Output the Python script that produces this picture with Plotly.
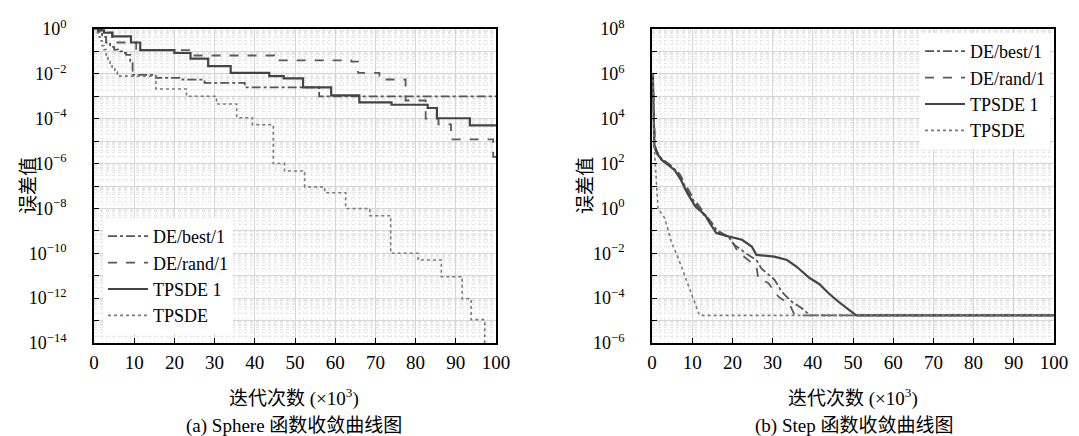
import plotly.graph_objects as go

# ---------------- data ----------------
series_names = ["DE/best/1", "DE/rand/1", "TPSDE 1", "TPSDE"]

# (a) Sphere
sph_best_x = [0, 1, 2, 3, 4, 5, 6, 7, 8, 9, 9.6, 15.4, 22, 27.5, 37.5, 56, 100]
sph_best_y = [1.0, 0.75, 0.45, 0.25, 0.16, 0.12, 0.1, 0.085, 0.07, 0.03, 0.009,
              0.0066, 0.0055, 0.004, 0.0025, 0.001, 0.001]

sph_rand_x = [0, 2, 4.5, 10.5, 24, 44.8, 64, 65.7, 71, 77.5, 82.5, 85.7, 88.8, 99.3, 100]
sph_rand_y = [1.0, 0.7, 0.25, 0.115, 0.066, 0.04, 0.035, 0.011, 0.0056, 6.5e-4,
              1e-4, 5.6e-5, 1.2e-5, 2e-6, 2e-6]

sph_tp1_x = [0, 1, 2.5, 4.6, 9.2, 11.5, 20, 24, 28.4, 34, 43.6, 47.2, 52, 59, 66,
             74, 83, 85.3, 93.5, 100]
sph_tp1_y = [1.0, 0.87, 0.68, 0.47, 0.25, 0.115, 0.085, 0.048, 0.022, 0.011,
             0.0079, 0.0063, 0.0025, 0.0011, 5.4e-4, 4.2e-4, 3e-4, 1.05e-4, 5e-5, 5e-5]

sph_tp_x = [0, 0.5, 1, 1.5, 2, 2.5, 3, 3.5, 4, 4.5, 5.2, 5.8, 15.4, 23, 30.5, 35.5,
            39.4, 44.6, 47.4, 52.4, 57.4, 62.6, 68.6, 73.8, 80.6, 86.4, 91.6, 93.8, 97.2]
sph_tp_y = [1.0, 0.7, 0.45, 0.3, 0.18, 0.12, 0.07, 0.045, 0.03, 0.02, 0.012, 0.0079,
            0.0021, 0.001, 4.5e-4, 1.1e-4, 5.4e-5, 1e-6, 4.7e-7, 9e-8, 5e-8, 1e-8,
            4.7e-9, 1e-10, 5e-11, 9e-12, 9.5e-13, 1.1e-13, 1e-16]

# (b) Step
stp_best_x = [0.2, 0.4, 0.7, 1.3, 2.5, 4, 5.6, 7, 8.5, 10.5, 12.5, 14.5, 16.5, 19.3,
              20.6, 23.9, 26, 27.2, 30.5, 32.2, 34.7, 37.2, 39.3, 100]
stp_best_y = [1e6, 1e4, 630, 316, 158, 100, 56, 25, 7.9, 2.0, 0.63, 0.25, 0.089,
              0.047, 0.023, 0.0085, 0.005, 0.0021, 6.6e-4, 2e-4, 7e-5, 3.6e-5,
              1.7e-5, 1.7e-5]

stp_rand_x = [0.2, 0.4, 0.7, 1.3, 2.5, 4, 5.6, 7, 8.5, 10.5, 12.5, 14.5, 16.5, 19.3,
              21.4, 23.9, 26, 26.4, 28.9, 31.4, 34.3, 35.5, 100]
stp_rand_y = [1e6, 1e4, 630, 316, 158, 100, 63, 32, 10, 2.5, 0.8, 0.28, 0.1, 0.05,
              0.0117, 0.005, 0.0025, 7.9e-4, 4.7e-4, 1.2e-4, 5e-5, 1.7e-5, 1.7e-5]

stp_tp1_x = [0.2, 0.4, 0.6, 1.2, 2.4, 4, 5.6, 7.2, 8.8, 10.8, 13.2, 14.4, 16, 19.2,
             22.4, 24.8, 26, 30.4, 33.6, 36, 39.2, 41.6, 44, 46.4, 48.5, 50.8, 100]
stp_tp1_y = [1e6, 1e4, 575, 290, 145, 87, 52, 18.6, 4.8, 1.2, 0.51, 0.22, 0.079,
             0.055, 0.04, 0.02, 0.0085, 0.0071, 0.005, 0.0025, 7.9e-4, 4.3e-4,
             1.6e-4, 6.9e-5, 3.5e-5, 1.7e-5, 1.7e-5]

stp_tp_x = [0.2, 0.5, 1.0, 1.5, 3.2, 4.8, 6.5, 8.1, 9.8, 11.8, 100]
stp_tp_y = [1e6, 1000, 30, 1.0, 0.36, 0.032, 0.0063, 0.001, 1.4e-4, 1.7e-5, 1.7e-5]

x_ticks = [0, 10, 20, 30, 40, 50, 60, 70, 80, 90, 100]
left_exps = list(range(-14, 1))
right_exps = list(range(-6, 9))

# ---------------- styling ----------------
FONT = "Liberation Serif, Times New Roman, Noto Sans CJK SC, serif"
line_styles = [
    dict(color="#555555", width=1.8, dash="dashdot"),
    dict(color="#5a5a5a", width=1.8, dash="dash"),
    dict(color="#444444", width=2.2, dash="solid"),
    dict(color="#7a7a7a", width=1.6, dash="dot"),
]

fig = go.Figure()

left_data = [(sph_best_x, sph_best_y), (sph_rand_x, sph_rand_y),
             (sph_tp1_x, sph_tp1_y), (sph_tp_x, sph_tp_y)]
right_data = [(stp_best_x, stp_best_y), (stp_rand_x, stp_rand_y),
              (stp_tp1_x, stp_tp1_y), (stp_tp_x, stp_tp_y)]

for name, (xs, ys), st in zip(series_names, left_data, line_styles):
    fig.add_trace(go.Scatter(x=xs, y=ys, mode="lines", name=name, line=dict(shape="hv", **st),
                             xaxis="x", yaxis="y", legend="legend"))
for name, (xs, ys), st in zip(series_names, right_data, line_styles):
    fig.add_trace(go.Scatter(x=xs, y=ys, mode="lines", name=name, line=dict(shape="linear", **st),
                             xaxis="x2", yaxis="y2", legend="legend2"))


def sup_label(e):
    s = str(e) if e >= 0 else "\u2212" + str(-e)
    return "10<sup>" + s + "</sup>"


def yaxis_cfg(exps, anchor):
    vals = [10.0 ** e for e in exps]
    text = [sup_label(e) if e % 2 == 0 else "" for e in exps]
    minor_vals = [m * 10.0 ** e for e in range(exps[0] - 1, exps[-1]) for m in range(2, 10)]
    return dict(
        type="log", range=[exps[0], exps[-1]], anchor=anchor,
        domain=[1 - 335 / 436, 1 - 21 / 436],
        tickmode="array", tickvals=vals, ticktext=text,
        ticks="inside", ticklen=5, tickcolor="black", tickwidth=1.2,
        showline=True, linecolor="black", linewidth=1.8, mirror=True,
        showgrid=True, gridcolor="#d6d6d6", gridwidth=1,
        minor=dict(tickmode="array", tickvals=minor_vals, showgrid=True,
                   gridcolor="#e6e6e6", griddash="dot", gridwidth=1, ticks=""),
        tickfont=dict(family=FONT, size=18, color="black"),
        ticklabelstandoff=22, zeroline=False, automargin=False,
    )


def xaxis_cfg(dom, anchor):
    return dict(
        range=[0, 100], domain=dom, anchor=anchor,
        tickmode="array", tickvals=x_ticks, ticktext=[str(v) for v in x_ticks],
        ticks="inside", ticklen=5, tickcolor="black", tickwidth=1.2,
        showline=True, linecolor="black", linewidth=1.8, mirror=True,
        showgrid=True, gridcolor="#d6d6d6", gridwidth=1,
        minor=dict(dtick=1, showgrid=True, gridcolor="#ededed", griddash="dot",
                   gridwidth=1, ticks=""),
        tickfont=dict(family=FONT, size=19, color="black"),
        ticklabelstandoff=1, zeroline=False, automargin=False,
    )


legend_common = dict(bgcolor="white", borderwidth=0,
                     font=dict(family=FONT, size=18, color="black"),
                     tracegroupgap=0, itemwidth=40)

fig.update_layout(
    width=1079, height=436,
    margin=dict(l=0, r=0, t=0, b=0),
    paper_bgcolor="white", plot_bgcolor="white",
    xaxis=xaxis_cfg([86 / 1079, 488 / 1079], "y"),
    yaxis=yaxis_cfg(left_exps, "x"),
    xaxis2=xaxis_cfg([644 / 1079, 1046 / 1079], "y2"),
    yaxis2=yaxis_cfg(right_exps, "x2"),
    legend=dict(x=95 / 1079, y=1 - 326 / 436, xanchor="left", yanchor="bottom", **legend_common),
    legend2=dict(x=1042 / 1079, y=1 - 25 / 436, xanchor="right", yanchor="top", **legend_common),
    showlegend=True,
)

ann_font = dict(family=FONT, size=19, color="black")
annotations = [
    dict(text="误差值", x=20 / 1079, y=1 - 178 / 436, textangle=-90),
    dict(text="误差值", x=577 / 1079, y=1 - 178 / 436, textangle=-90),
    dict(text="迭代次数 (×10<sup>3</sup>)", x=286 / 1079, y=1 - 389 / 436),
    dict(text="迭代次数 (×10<sup>3</sup>)", x=845 / 1079, y=1 - 389 / 436),
    dict(text="(a) Sphere 函数收敛曲线图", x=286 / 1079, y=1 - 418 / 436),
    dict(text="(b) Step 函数收敛曲线图", x=846 / 1079, y=1 - 418 / 436),
]
for a in annotations:
    fig.add_annotation(xref="paper", yref="paper", xanchor="center", yanchor="middle",
                       showarrow=False, font=ann_font, **a)

fig.write_html("out.html")
